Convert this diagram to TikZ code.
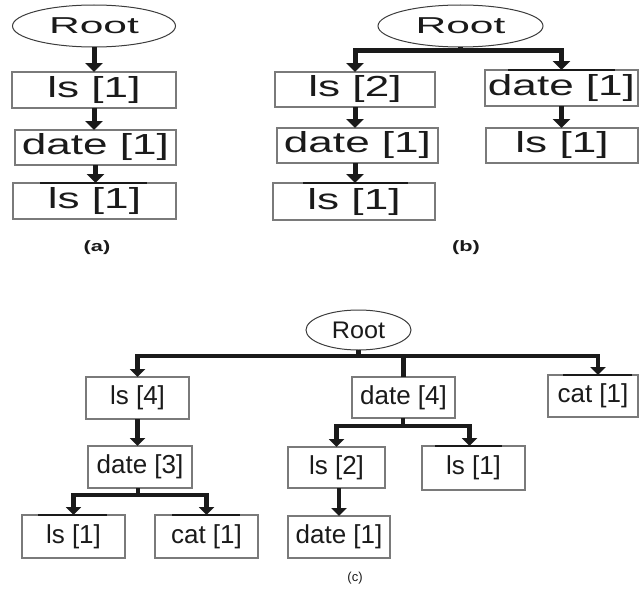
\documentclass[tikz,border=0pt]{standalone}
\usepackage{fontspec}
\setmainfont{Liberation Sans}
\usetikzlibrary{arrows.meta,shapes.geometric}
\newcommand\hstretch[2]{\scalebox{#1}[1]{#2}}
\definecolor{ink}{HTML}{1A1A1A}
\definecolor{frame}{HTML}{7A7A7A}
\tikzset{
  every node/.style={text=ink, inner sep=0pt, outer sep=0pt},
  box/.style={draw=frame, line width=1.2pt, rectangle},
  rootnode/.style={draw=ink!85, line width=1pt, ellipse},
  bigtxt/.style={font=\fontsize{29}{30}\selectfont},
  roottxt/.style={font=\fontsize{23}{24}\selectfont},
  smalltxt/.style={font=\fontsize{26}{27}\selectfont},
  link/.style={draw=ink, line width=5pt},
  arr/.style={link, -{Triangle[width=17pt,length=9pt]}},
  linkc/.style={draw=ink, line width=4.3pt},
  arrc/.style={linkc, -{Triangle[width=15pt,length=8pt]}},
  edgemark/.style={draw=ink, line width=1.3pt},
}
\begin{document}
\begin{tikzpicture}[x=1pt,y=-1pt]
\useasboundingbox (0,0) rectangle (639,602);

% ---- (a) single path ----
\node[rootnode, minimum width=163pt, minimum height=42pt, roottxt] (ra) at (94,26) {\hstretch{1.85}{Root}};
\node[box, minimum width=164pt, minimum height=36pt, bigtxt] (a1) at (94,90) {\hstretch{1.52}{ls [1]}};
\node[box, minimum width=161pt, minimum height=35pt, bigtxt] (a2) at (95.5,147.5) {\hstretch{1.52}{date [1]}};
\node[box, minimum width=163pt, minimum height=36pt, bigtxt] (a3) at (94.5,201) {\hstretch{1.52}{ls [1]}};
\draw[edgemark] ([xshift=27pt]a3.north west) -- ([xshift=134pt]a3.north west);
\draw[arr] (ra.south) -- (ra.south |- a1.north);
\draw[arr] (a1.south) -- (a1.south |- a2.north);
\draw[arr] (a2.south) -- (a2.south |- a3.north);
\node[font=\bfseries\fontsize{15}{16}\selectfont] (la) at (97,248) {\hstretch{1.45}{(a)}};

% ---- (b) two paths ----
\node[rootnode, minimum width=165pt, minimum height=42pt, roottxt] (rb) at (460.5,26) {\hstretch{1.85}{Root}};
\node[box, minimum width=160pt, minimum height=35pt, bigtxt] (b1) at (355,89.5) {\hstretch{1.52}{ls [2]}};
\node[box, minimum width=161pt, minimum height=35pt, bigtxt] (b2) at (357.5,145.5) {\hstretch{1.52}{date [1]}};
\node[box, minimum width=162pt, minimum height=37pt, bigtxt] (b3) at (354,201.5) {\hstretch{1.52}{ls [1]}};
\node[box, minimum width=153pt, minimum height=36pt, bigtxt] (b4) at (561.5,88) {\hstretch{1.52}{date [1]}};
\node[box, minimum width=152pt, minimum height=35pt, bigtxt] (b5) at (562,145.5) {\hstretch{1.52}{ls [1]}};
\draw[edgemark] ([xshift=30pt]b3.north west) -- ([xshift=135pt]b3.north west);
\draw[edgemark] ([xshift=23pt]b4.north west) -- ([xshift=130pt]b4.north west);
\coordinate (jb) at (460.5,51);
\draw[link] (rb.south) -- (jb);
\draw[arr] (jb) -| (b1.north);
\draw[arr] (jb) -| (b4.north);
\draw[arr] (b1.south) -- (b1.south |- b2.north);
\draw[arr] (b2.south -| b1.south) -- (b1.south |- b3.north);
\draw[arr] (b4.south) -- (b4.south |- b5.north);
\node[font=\bfseries\fontsize{15}{16}\selectfont] (lb) at (466,248) {\hstretch{1.45}{(b)}};

% ---- (c) merged tree ----
\node[rootnode, minimum width=105pt, minimum height=40pt, font=\fontsize{24}{25}\selectfont] (rc) at (358.5,330) {\hstretch{1.05}{Root}};
\node[box, minimum width=103pt, minimum height=42pt, smalltxt] (c1) at (137.5,398) {ls [4]};
\node[box, minimum width=103pt, minimum height=41pt, smalltxt] (c2) at (403.5,397.5) {date [4]};
\node[box, minimum width=90pt, minimum height=42pt, smalltxt] (c3) at (593,396) {cat [1]};
\node[box, minimum width=104pt, minimum height=42pt, smalltxt] (c4) at (140,467) {date [3]};
\node[box, minimum width=103pt, minimum height=43pt, smalltxt] (c5) at (73.5,536.5) {ls [1]};
\node[box, minimum width=103pt, minimum height=43pt, smalltxt] (c6) at (206.5,536.5) {cat [1]};
\node[box, minimum width=97pt, minimum height=41pt, smalltxt] (c7) at (336.5,467.5) {ls [2]};
\node[box, minimum width=103pt, minimum height=44pt, smalltxt] (c8) at (473.5,468) {ls [1]};
\node[box, minimum width=102pt, minimum height=42pt, smalltxt] (c9) at (339,537) {date [1]};
\draw[edgemark] ([xshift=15pt]c3.north west) -- ([xshift=84pt]c3.north west);
\draw[edgemark] ([xshift=16pt]c5.north west) -- ([xshift=85pt]c5.north west);
\draw[edgemark] ([xshift=17pt]c6.north west) -- ([xshift=85pt]c6.north west);
\draw[edgemark] ([xshift=13pt]c8.north west) -- ([xshift=80pt]c8.north west);

\coordinate (jc) at (358.5,356);
\coordinate (c3in) at (598,375);
\draw[linkc] (rc.south) -- (jc);
\draw[arrc] (jc) -| (c1.north);
\draw[linkc] (jc) -| (c2.north);
\draw[arrc] (jc) -| (c3in);
\draw[arrc] (c1.south) -- (c1.south |- c4.north);

\coordinate (j3) at (138,495);
\draw[linkc] (c4.south -| j3) -- (j3);
\draw[arrc] (j3) -| (c5.north);
\draw[arrc] (j3) -| (c6.north);

\coordinate (j4) at (403,426);
\draw[linkc] (c2.south -| j4) -- (j4);
\draw[arrc] (j4) -| (c7.north);
\draw[arrc] (j4) -| ([xshift=-4pt]c8.north);
\draw[arrc] (c7.south -| c9.north) -- (c9.north);

\node[font=\fontsize{13}{14}\selectfont] (lc) at (355,578) {(c)};
\end{tikzpicture}
\end{document}
